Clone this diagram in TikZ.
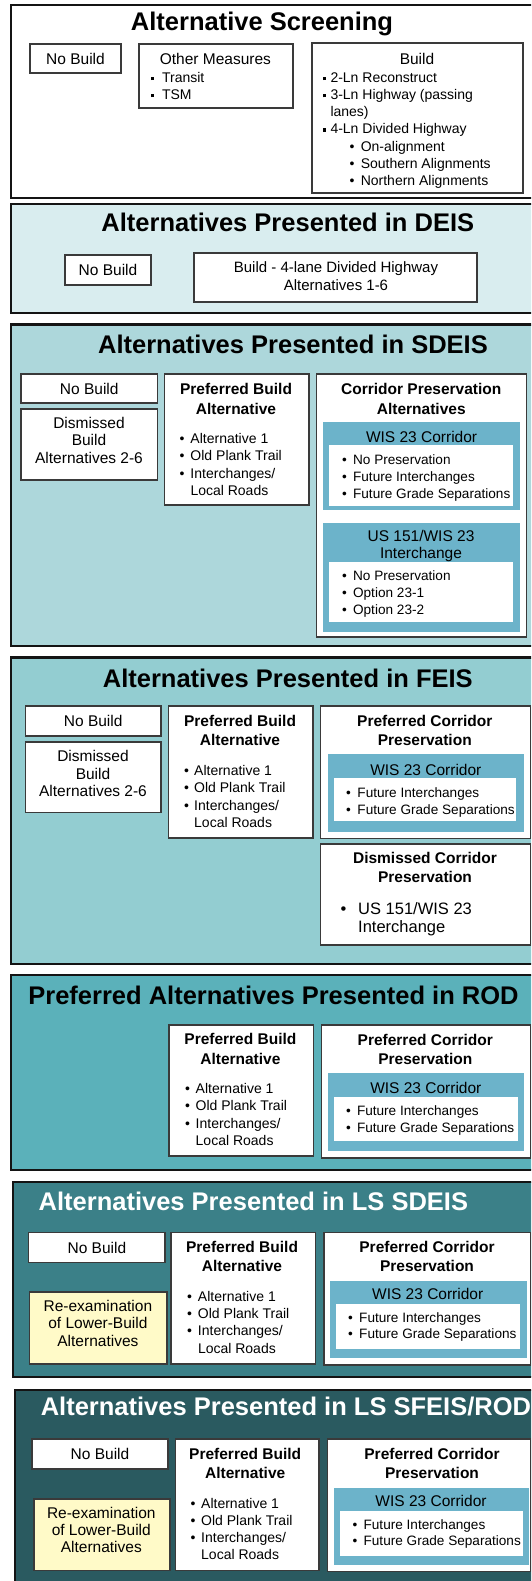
\documentclass[tikz,border=0pt]{standalone}
\usepackage{fontspec}
\setmainfont{Liberation Sans}
\definecolor{cA}{HTML}{D9EDEF}
\definecolor{cB}{HTML}{ADD7DB}
\definecolor{cC}{HTML}{93CDD1}
\definecolor{cD}{HTML}{5BB1BA}
\definecolor{cE}{HTML}{3B8088}
\definecolor{cF}{HTML}{2A5A60}
\definecolor{subblue}{HTML}{6CB3CA}
\definecolor{yel}{HTML}{FFFAC8}
\definecolor{edge}{HTML}{3A3A3A}
\newlength\bulw
\newcommand\bi{\makebox[\bulw][l]{\textbullet}}
\newcommand\sqb{\makebox[\bulw][l]{\rule[2.2pt]{3.4pt}{3.4pt}}}
\newcommand\ctab[1]{\begin{tabular}[t]{@{}c@{}}#1\end{tabular}}
\newcommand\ltab[1]{\begin{tabular}[t]{@{}l@{}}#1\end{tabular}}
\newcommand\blist[2]{\setlength\bulw{#1}\ltab{#2}}
\newcommand\bx[6]{\node[#6, anchor=north west, outer sep=0pt, inner sep=0pt,
  minimum width={#4pt-#2pt}, minimum height={#5pt-#3pt}] (#1) at (#2,#3) {};}
\tikzset{
  panel/.style={draw=black!92, line width=2.2pt, fill=#1},
  ibox/.style={draw=edge, line width=1.1pt, fill=white},
  ybox/.style={draw=edge, line width=1.1pt, fill=yel},
  sub/.style={fill=subblue},
  inner/.style={fill=white},
  ttl/.style={font=\fontsize{25.5}{30}\selectfont\bfseries, inner sep=0pt, anchor=base},
  hd/.style={font=\fontsize{15.5}{19.4}\selectfont\bfseries, inner sep=0pt, anchor=base},
  rg/.style={font=\fontsize{15.5}{#1}\selectfont, inner sep=0pt, anchor=base},
  rg/.default=17.4,
  it/.style={font=\fontsize{14}{#1}\selectfont, inner sep=0pt, anchor=base west},
  it/.default=17.3,
  wl/.style={font=\fontsize{13.6}{#1}\selectfont, inner sep=0pt, anchor=base west},
  wl/.default=16.8,
}
\begin{document}
\begin{tikzpicture}[x=1pt,y=-1pt]
\useasboundingbox (0,0) rectangle (531,1581);
\clip (0,0) rectangle (531,1581);

% ---------- Panel 1 ----------
\bx{p1}{11}{5}{545}{198}{panel=white}
\node[ttl] (t1) at (262,31) {Alternative Screening};
\bx{p1nb}{30}{44}{121}{73}{ibox}
\node[rg, anchor=center] (p1nbt) at (p1nb.center) {No Build};
\bx{p1om}{139}{44}{293}{108}{ibox}
\node[rg] (p1omt) at (215.4,64.3) {Other Measures};
\node[it=17] (p1oml) at (150.7,82.3) {\blist{11.2pt}{\sqb Transit\\ \sqb TSM}};
\bx{p1b}{312}{43}{523}{193}{ibox}
\node[rg] (p1bt) at (417,64.3) {Build};
\node[it=17.2] (p1bl) at (322.3,82.3) {\blist{8pt}{\sqb 2-Ln Reconstruct\\
 \sqb 3-Ln Highway (passing\\
 \hspace{\bulw}lanes)\\
 \sqb 4-Ln Divided Highway\\
 \hspace{27.2pt}\makebox[11.1pt][l]{\textbullet}On-alignment\\
 \hspace{27.2pt}\makebox[11.1pt][l]{\textbullet}Southern Alignments\\
 \hspace{27.2pt}\makebox[11.1pt][l]{\textbullet}Northern Alignments}};

% ---------- Panel 2 ----------
\bx{p2}{11}{204}{545}{313}{panel=cA}
\node[ttl] (t2) at (287.8,231.2) {Alternatives Presented in DEIS};
\bx{p2nb}{65}{255}{151}{285}{ibox}
\node[rg, anchor=center] (p2nbt) at (p2nb.center) {No Build};
\bx{p2b}{194}{253}{477}{302}{ibox}
\node[rg=18, font=\fontsize{15}{18}\selectfont] (p2bt) at (336,272) {\ctab{Build - 4-lane Divided Highway\\Alternatives 1-6}};

% ---------- Panel 3 ----------
\bx{p3}{11}{324.5}{545}{646}{panel=cB}
\node[ttl] (t3) at (293,353) {Alternatives Presented in SDEIS};
\bx{p3nb}{21}{374}{157.5}{403}{ibox}
\node[rg, anchor=center] (p3nbt) at (p3nb.center) {No Build};
\bx{p3dm}{21}{409}{157.5}{480}{ibox}
\node[rg=17.4] (p3dmt) at (89,428.4) {\ctab{Dismissed\\Build\\Alternatives 2-6}};
\bx{p3pb}{164.5}{374}{309}{505}{ibox}
\node[hd] (p3pbt) at (236,394.6) {\ctab{Preferred Build\\Alternative}};
\node[it=17.5] (p3pbl) at (179.5,443) {\blist{10.8pt}{\bi Alternative 1\\ \bi Old Plank Trail\\ \bi Interchanges/\\ \hspace{\bulw}Local Roads}};
\bx{p3cp}{316.6}{374}{526.6}{637}{ibox}
\node[hd] (p3cpt) at (421.3,394.6) {\ctab{Corridor Preservation\\Alternatives}};
\bx{p3w}{323}{422}{520}{510}{sub}
\node[rg] (p3wt) at (421.6,442) {WIS 23 Corridor};
\bx{p3wi}{329}{445}{513}{506}{inner}
\node[wl=17] (p3wl) at (342,464) {\blist{10.9pt}{\bi No Preservation\\ \bi Future Interchanges\\ \bi Future Grade Separations}};
\bx{p3u}{323}{522.6}{520}{632}{sub}
\node[rg=16.9] (p3ut) at (421,541.2) {\ctab{US 151/WIS 23\\Interchange}};
\bx{p3ui}{329}{562}{513}{622}{inner}
\node[wl=16.8] (p3ul) at (342,580.8) {\blist{10.9pt}{\bi No Preservation\\ \bi Option 23-1\\ \bi Option 23-2}};

% ---------- Panel 4 ----------
\bx{p4}{11}{657.5}{545}{964}{panel=cC}
\node[ttl] (t4) at (287.8,687.3) {Alternatives Presented in FEIS};
\bx{p4nb}{25.4}{706}{161}{736}{ibox}
\node[rg, anchor=center] (p4nbt) at (p4nb.center) {No Build};
\bx{p4dm}{25.4}{742}{161}{812.6}{ibox}
\node[rg=17.3] (p4dmt) at (93,761.8) {\ctab{Dismissed\\Build\\Alternatives 2-6}};
\bx{p4pb}{168.6}{706}{313}{838}{ibox}
\node[hd] (p4pbt) at (240,726.3) {\ctab{Preferred Build\\Alternative}};
\node[it=17.5] (p4pbl) at (183.9,775.4) {\blist{10.1pt}{\bi Alternative 1\\ \bi Old Plank Trail\\ \bi Interchanges/\\ \hspace{\bulw}Local Roads}};
\bx{p4pc}{320.7}{706}{530.5}{838.7}{ibox}
\node[hd] (p4pct) at (424.8,726.3) {\ctab{Preferred Corridor\\Preservation}};
\bx{p4w}{327.8}{754}{524}{831.6}{sub}
\node[rg] (p4wt) at (425.8,775.4) {WIS 23 Corridor};
\bx{p4wi}{333.5}{778}{516.4}{821}{inner}
\node[wl=16.9] (p4wl) at (346,797.4) {\blist{11.3pt}{\bi Future Interchanges\\ \bi Future Grade Separations}};
\bx{p4dc}{320.7}{844}{530.5}{945}{ibox}
\node[hd] (p4dct) at (425,863.4) {\ctab{Dismissed Corridor\\Preservation}};
\node[it, font=\fontsize{16.5}{18.6}\selectfont] (p4dcl) at (340.3,914.2) {\blist{17.7pt}{\bi US 151/WIS 23\\ \hspace{\bulw}Interchange}};

% ---------- Panel 5 ----------
\bx{p5}{11}{975}{545}{1170}{panel=cD}
\node[ttl] (t5) at (273.5,1004) {Preferred Alternatives Presented in ROD};
\bx{p5pb}{169}{1025}{313.6}{1156}{ibox}
\node[hd] (p5pbt) at (240.4,1044.7) {\ctab{Preferred Build\\Alternative}};
\node[it=17.5] (p5pbl) at (185,1093) {\blist{10.5pt}{\bi Alternative 1\\ \bi Old Plank Trail\\ \bi Interchanges/\\ \hspace{\bulw}Local Roads}};
\bx{p5pc}{321.7}{1025}{530.5}{1158}{ibox}
\node[hd] (p5pct) at (425.3,1045.3) {\ctab{Preferred Corridor\\Preservation}};
\bx{p5w}{327.8}{1073}{524}{1150.6}{sub}
\node[rg] (p5wt) at (425.8,1093.8) {WIS 23 Corridor};
\bx{p5wi}{334}{1097}{518}{1141}{inner}
\node[wl=16.9] (p5wl) at (346,1115.8) {\blist{10.8pt}{\bi Future Interchanges\\ \bi Future Grade Separations}};

% ---------- Panel 6 ----------
\bx{p6}{13}{1182}{545}{1377}{panel=cE}
\node[ttl, white, anchor=base west] (t6) at (38.5,1210.7) {Alternatives Presented in LS SDEIS};
\bx{p6nb}{28.8}{1232.7}{165}{1262.5}{ibox}
\node[rg, anchor=center] (p6nbt) at (p6nb.center) {No Build};
\bx{p6re}{29.5}{1292}{167}{1364}{ybox}
\node[rg=17.4] (p6ret) at (97.9,1311.3) {\ctab{Re-examination\\of Lower-Build\\Alternatives}};
\bx{p6pb}{171}{1232.7}{315.6}{1364}{ibox}
\node[hd] (p6pbt) at (242,1252.4) {\ctab{Preferred Build\\Alternative}};
\node[it=17.2] (p6pbl) at (187,1301.5) {\blist{10.8pt}{\bi Alternative 1\\ \bi Old Plank Trail\\ \bi Interchanges/\\ \hspace{\bulw}Local Roads}};
\bx{p6pc}{324}{1232.7}{530.5}{1365}{ibox}
\node[hd] (p6pct) at (427,1252.4) {\ctab{Preferred Corridor\\Preservation}};
\bx{p6w}{329.5}{1281}{526.6}{1358}{sub}
\node[rg] (p6wt) at (427.7,1299.8) {WIS 23 Corridor};
\bx{p6wi}{336}{1304}{520}{1349}{inner}
\node[wl=16.2] (p6wl) at (348,1322.5) {\blist{11pt}{\bi Future Interchanges\\ \bi Future Grade Separations}};

% ---------- Panel 7 ----------
\bx{p7}{15}{1389.6}{545}{1600}{panel=cF}
\node[ttl, white, anchor=base west] (t7) at (40.6,1415.7) {Alternatives Presented in LS SFEIS/ROD};
\bx{p7nb}{32}{1439}{168}{1469}{ibox}
\node[rg, anchor=center] (p7nbt) at (p7nb.center) {No Build};
\bx{p7re}{34}{1499}{170}{1570.5}{ybox}
\node[rg=17.4] (p7ret) at (101.3,1518) {\ctab{Re-examination\\of Lower-Build\\Alternatives}};
\bx{p7pb}{175.7}{1439}{319}{1570.5}{ibox}
\node[hd] (p7pbt) at (245.2,1459) {\ctab{Preferred Build\\Alternative}};
\node[it=17.1] (p7pbl) at (190.5,1508.2) {\blist{10.5pt}{\bi Alternative 1\\ \bi Old Plank Trail\\ \bi Interchanges/\\ \hspace{\bulw}Local Roads}};
\bx{p7pc}{327.5}{1439}{530.5}{1571.5}{ibox}
\node[hd] (p7pct) at (432,1459) {\ctab{Preferred Corridor\\Preservation}};
\bx{p7w}{333.6}{1488}{529}{1565}{sub}
\node[rg] (p7wt) at (431,1506.5) {WIS 23 Corridor};
\bx{p7wi}{339.7}{1510.5}{523}{1556}{inner}
\node[wl=16.4] (p7wl) at (352.5,1529) {\blist{10.9pt}{\bi Future Interchanges\\ \bi Future Grade Separations}};
\end{tikzpicture}
\end{document}
